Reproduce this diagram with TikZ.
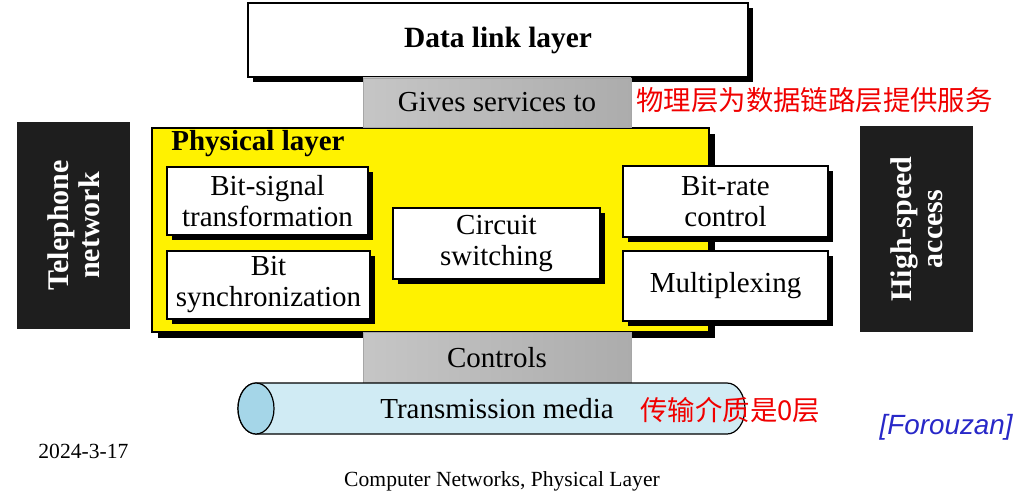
\documentclass[tikz,border=0pt]{standalone}
\usepackage{fontspec}
\setmainfont{Liberation Serif}
\newfontfamily\cjkfont{Noto Sans CJK SC}
\newfontfamily\arialfont{Liberation Sans}
\usetikzlibrary{shadows}

\definecolor{mediablue}{RGB}{208,235,244}
\definecolor{mediaend}{RGB}{165,214,232}
\definecolor{noteblue}{RGB}{40,40,200}
\definecolor{darkbox}{RGB}{30,30,30}
\definecolor{notered}{RGB}{240,0,0}

\tikzset{
  boxtext/.style = {font=\fontsize{14.5}{15.5}\selectfont, align=center, inner sep=0pt},
  whitebox/.style = {boxtext, draw=black, fill=white, line width=0.6pt,
    drop shadow={shadow xshift=2.5pt, shadow yshift=-2.5pt, fill=black, opacity=1}},
  greybox/.style = {boxtext, draw=gray!70, left color=gray!45, middle color=gray!5, right color=gray!65,
    minimum width=134pt},
  sidebox/.style = {rotate=90, fill=darkbox, text=white, align=center, inner sep=0pt,
    font=\bfseries\fontsize{15}{15.5}\selectfont, minimum width=103.5pt, minimum height=56.5pt},
  cnnote/.style = {text=notered, font=\cjkfont\fontsize{13.7}{15}\selectfont, inner sep=0pt}
}

\begin{document}
\begin{tikzpicture}[x=0.5pt, y=-0.5pt]
  \useasboundingbox[fill=white] (0,0) rectangle (1021,502);

  % upper layer and the service it gets
  \node[whitebox, minimum width=250pt, minimum height=37pt, font=\bfseries\fontsize{14.7}{15}\selectfont]
    (datalink) at (498,40) {Data link layer};

  % physical layer frame
  \node[draw=black, fill=yellow, line width=0.6pt, minimum width=278.5pt, minimum height=102pt,
    drop shadow={shadow xshift=3pt, shadow yshift=-3pt, fill=black, opacity=1}]
    (physical) at (430.5,230) {};
  \node[anchor=west, inner sep=0pt, font=\bfseries\fontsize{14.5}{15}\selectfont]
    (phytitle) at (171,144) {Physical layer};

  \node[greybox, minimum height=24.5pt] (gives) at (497,102.5) {Gives services to};
  \node[greybox, minimum height=25.5pt] (controls) at (497,357.5) {Controls};

  % functions of the physical layer
  \node[whitebox, minimum width=100.5pt, minimum height=34pt] (bitsignal) at (267.5,201) {Bit-signal\\transformation};
  \node[whitebox, minimum width=101.5pt, minimum height=34pt] (bitsync) at (268.5,285) {Bit\\synchronization};
  \node[whitebox, minimum width=103.5pt, minimum height=35.5pt] (circuit) at (496.5,243.5) {Circuit\\switching};
  \node[whitebox, minimum width=102.5pt, minimum height=35.5pt] (bitrate) at (725.5,201.5) {Bit-rate\\control};
  \node[whitebox, minimum width=102.5pt, minimum height=35pt] (multiplex) at (725.5,286) {Multiplexing};

  % side boxes
  \node[sidebox] (telephone) at (73.5,225.5) {Telephone\\network};
  \node[sidebox, minimum width=103pt] (highspeed) at (916.5,229) {High-speed\\access};

  % transmission media
  \draw[fill=mediablue, line width=0.6pt] (256,383) -- (727,383)
    arc[start angle=-90, end angle=90, x radius=18, y radius=25.5] -- (256,434)
    arc[start angle=90, end angle=270, x radius=18, y radius=25.5] -- cycle;
  \draw[fill=mediaend, line width=0.6pt] (256,408.5) ellipse[x radius=18, y radius=25.5];
  \node[boxtext] (media) at (497,409) {Transmission media};

  % notes
  \node[cnnote, anchor=west] (note1) at (636,100) {物理层为数据链路层提供服务};
  \node[cnnote, anchor=west] (note2) at (640,410) {传输介质是0层};
  \node[anchor=east, inner sep=0pt, text=noteblue, font=\arialfont\itshape\fontsize{13.9}{15}\selectfont]
    (source) at (1013,427) {[Forouzan]};
  \node[anchor=west, inner sep=0pt, font=\fontsize{10.8}{12}\selectfont] (date) at (38,451) {2024-3-17};
  \node[inner sep=0pt, font=\fontsize{10.8}{12}\selectfont] (footer) at (502,481) {Computer Networks, Physical Layer};
\end{tikzpicture}
\end{document}
